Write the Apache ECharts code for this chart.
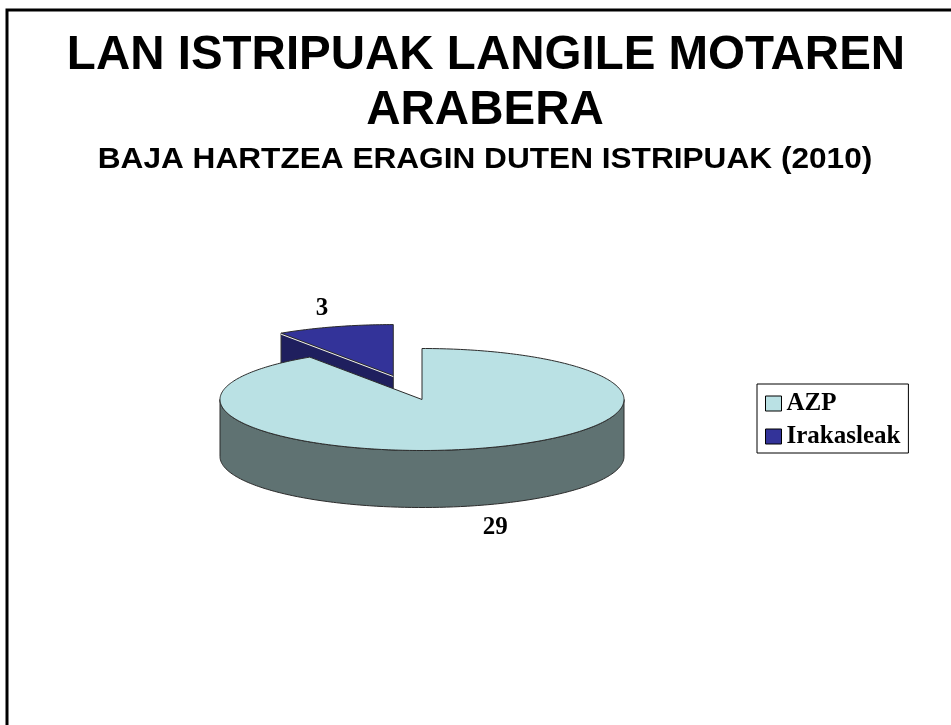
<!DOCTYPE html>
<html>
<head>
<meta charset="utf-8">
<script src="https://cdn.jsdelivr.net/npm/echarts@6/dist/echarts.min.js"></script>
<style>
  html, body { margin: 0; padding: 0; background: #fff; }
  #chart { width: 951px; height: 725px; }
</style>
</head>
<body>
<div id="chart"></div>
<script>
// Work accidents that caused sick leave, by staff type (2010)
const categories = ['AZP', 'Irakasleak'];
const values = [29, 3];
const explodedIndex = 1; // this slice is pulled out of the pie

const titleLines = ['LAN ISTRIPUAK LANGILE MOTAREN', 'ARABERA'];
const subtitleText = 'BAJA HARTZEA ERAGIN DUTEN ISTRIPUAK (2010)';

// colours: lit top face and darker side wall per slice
const topColors = ['#BAE1E4', '#333399'];
const sideColors = ['#5F7272', '#1F1F5E'];

// layout of the tilted pie (elliptical top face plus wall height)
const PIE = { cx: 422, cy: 399.5, rx: 202, ry: 51, depth: 57, explode: 0.49 };
const DEG = Math.PI / 180;
const total = values.reduce((a, b) => a + b, 0);

// angles are measured clockwise from 12 o'clock
function sliceAngles(i) {
  let start = 0;
  for (let k = 0; k < i; k++) start += values[k] / total * 360;
  return [start, start + values[i] / total * 360];
}
function rim(c, a, dz, k) {
  k = k || 1;
  return [c[0] + PIE.rx * k * Math.sin(a * DEG), c[1] - PIE.ry * k * Math.cos(a * DEG) + dz];
}
function arc(c, a0, a1, dz) {
  const pts = [];
  const n = Math.max(2, Math.ceil(Math.abs(a1 - a0)));
  for (let j = 0; j <= n; j++) pts.push(rim(c, a0 + (a1 - a0) * j / n, dz));
  return pts;
}

function renderSlice(i, api) {
  const [a0, a1] = sliceAngles(i);
  const mid = (a0 + a1) / 2;
  const off = i === explodedIndex ? PIE.explode : 0;
  const c = [PIE.cx + PIE.rx * off * Math.sin(mid * DEG), PIE.cy - PIE.ry * off * Math.cos(mid * DEG)];
  const D = PIE.depth;
  const stroke = '#2b2b2b';
  const children = [];
  const highlights = [];

  // outer wall: only the front half of the rim is seen
  const w0 = Math.max(a0, 90), w1 = Math.min(a1, 270);
  if (w1 > w0) {
    const pts = arc(c, w0, w1, 0).concat(arc(c, w1, w0, D));
    children.push({ type: 'polygon', shape: { points: pts },
      style: { fill: sideColors[i], stroke: stroke, lineWidth: 1 } });
  }
  // radial cut faces that turn towards the viewer
  [[a0, Math.sin(a0 * DEG) < -1e-6], [a1, Math.sin(a1 * DEG) > 1e-6]].forEach(function (f) {
    if (!f[1]) return;
    const p = rim(c, f[0], 0), q = rim(c, f[0], D);
    children.push({ type: 'polygon', shape: { points: [c, p, q, [c[0], c[1] + D]] },
      style: { fill: sideColors[i], stroke: stroke, lineWidth: 1 } });
    highlights.push({ type: 'line', shape: { x1: p[0], y1: p[1] + 1, x2: c[0], y2: c[1] + 1 },
      style: { stroke: '#f4f4e8', lineWidth: 1 } });
  });
  // top face
  children.push({ type: 'polygon', shape: { points: [c].concat(arc(c, a0, a1, 0)) },
    style: { fill: topColors[i], stroke: stroke, lineWidth: 1 } });
  highlights.forEach(h => children.push(h));

  // value label outside the slice
  const front = Math.cos(mid * DEG) < 0;
  const lp = rim(c, mid, 0, 1.25);
  children.push({
    type: 'text', x: lp[0] + (front ? 0 : 2), y: lp[1] + (front ? D + 10 : -6),
    style: {
      text: String(api.value(0)), fill: '#000',
      fontFamily: 'Liberation Serif', fontWeight: 'bold', fontSize: 25,
      align: 'center', verticalAlign: 'middle'
    }
  });
  return { type: 'group', children: children };
}

// slices further back are drawn first
const depthOrder = categories.map((_, i) => {
  const [a0, a1] = sliceAngles(i);
  return { i: i, back: Math.cos((a0 + a1) / 2 * DEG) };
}).sort((p, q) => q.back - p.back).map(o => o.i);

const chart = echarts.init(document.getElementById('chart'), null, { renderer: 'canvas' });

chart.setOption({
  backgroundColor: '#fff',
  animation: false,
  legend: {
    data: categories,
    orient: 'vertical',
    left: 757, top: 384,
    padding: [7, 8, 4, 8],
    itemGap: 8,
    itemWidth: 16, itemHeight: 15,
    icon: 'rect',
    borderColor: '#000', borderWidth: 1,
    itemStyle: { borderColor: '#000', borderWidth: 1 },
    textStyle: { fontFamily: 'Liberation Serif', fontWeight: 'bold', fontSize: 25, color: '#000' },
    selectedMode: false
  },
  graphic: [
    { type: 'rect', silent: true, shape: { x: 7, y: 10, width: 1000, height: 1000 },
      style: { fill: null, stroke: '#000', lineWidth: 3 } },
    { type: 'text', x: 486, y: 56,
      style: { text: titleLines[0], fill: '#000', fontFamily: 'Liberation Sans', fontWeight: 'bold',
        fontSize: 47.5, align: 'center', verticalAlign: 'middle' } },
    { type: 'text', x: 485, y: 111,
      style: { text: titleLines[1], fill: '#000', fontFamily: 'Liberation Sans', fontWeight: 'bold',
        fontSize: 47.5, align: 'center', verticalAlign: 'middle' } },
    { type: 'text', x: 485, y: 159.5, scaleX: 1.09,
      style: { text: subtitleText, fill: '#000', fontFamily: 'Liberation Sans', fontWeight: 'bold',
        fontSize: 29, align: 'center', verticalAlign: 'middle' } }
  ],
  series: categories.map((name, i) => ({
    type: 'custom',
    name: name,
    coordinateSystem: 'none',
    silent: true,
    z: 2 + depthOrder.indexOf(i),
    itemStyle: { color: topColors[i] },
    data: [values[i]],
    renderItem: (params, api) => renderSlice(i, api)
  }))
});
</script>
</body>
</html>
